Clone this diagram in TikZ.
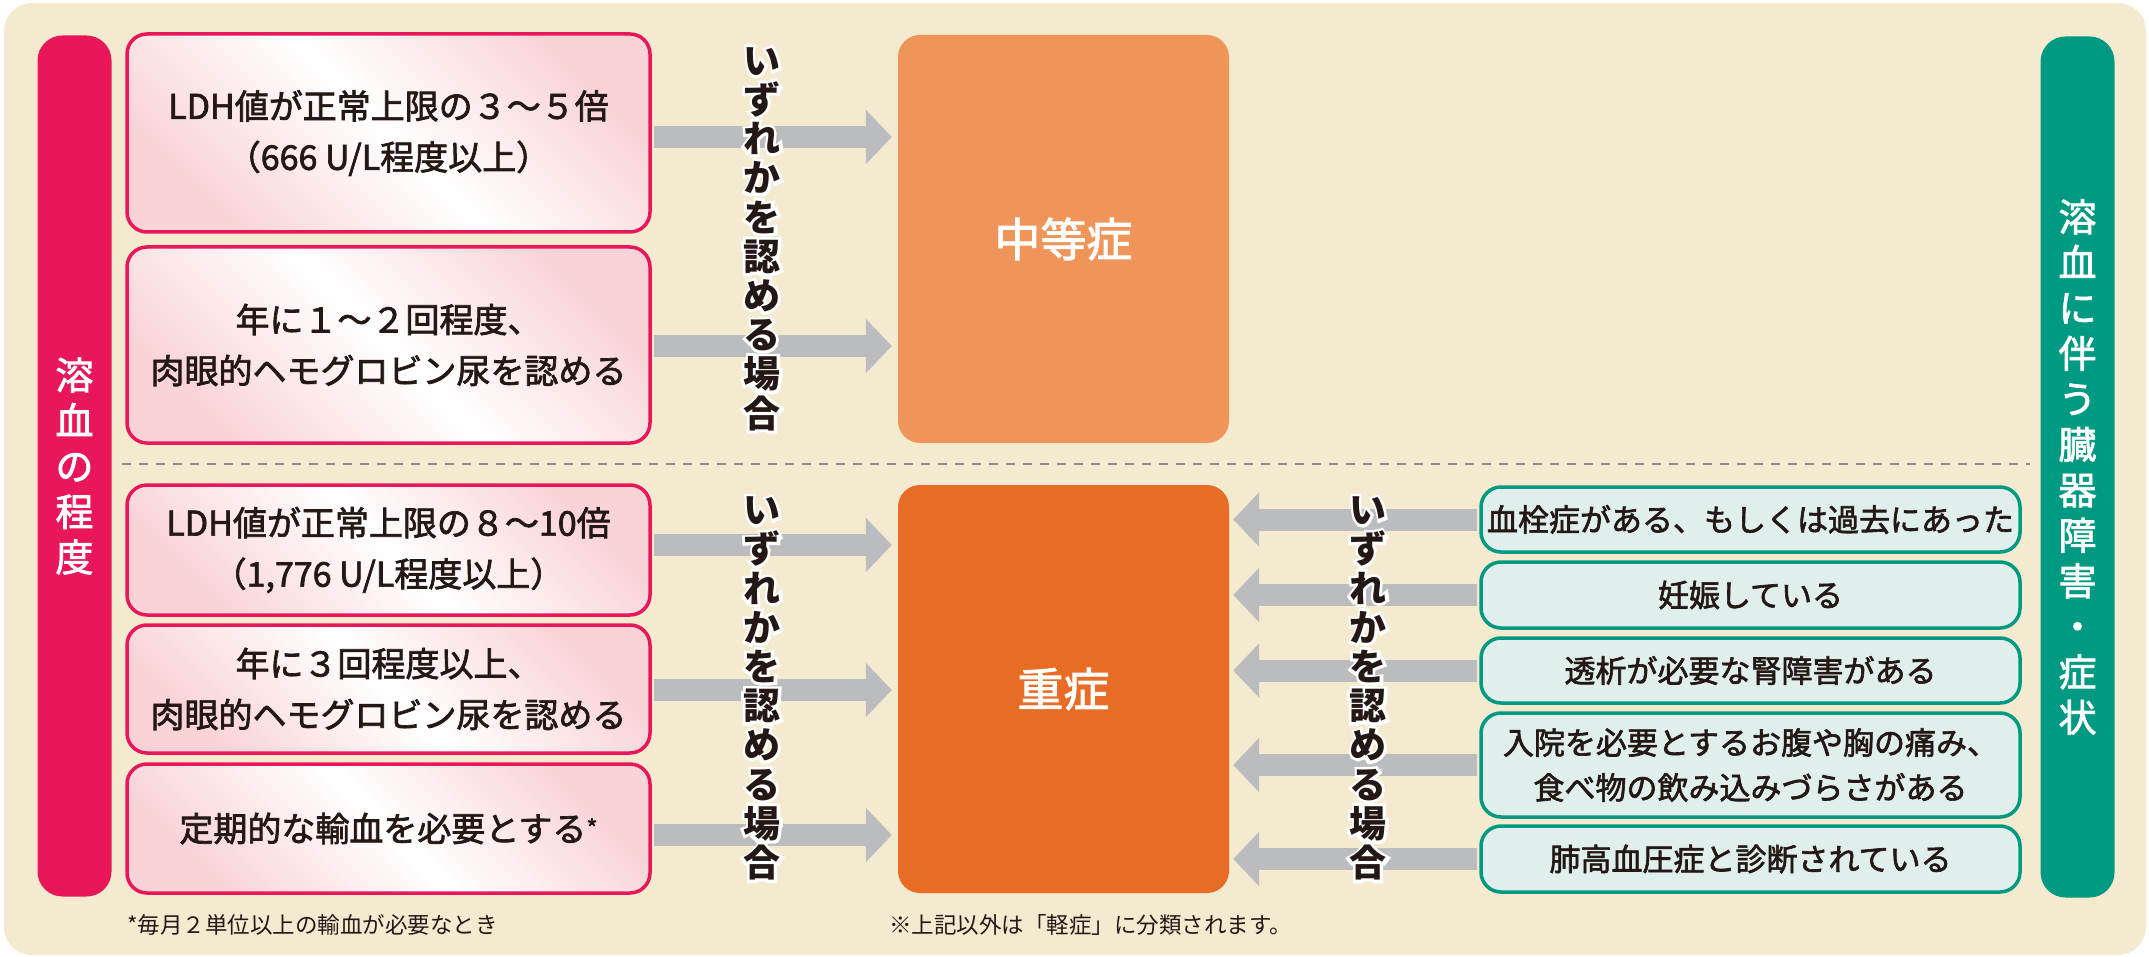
\documentclass[tikz,border=0pt]{standalone}
\usepackage{fontspec}
\setmainfont{Noto Sans CJK JP}
\newfontfamily\medfont{Noto Sans CJK JP}[FakeBold=2]
\newfontfamily\halofont{Noto Sans CJK JP}[FakeBold=20]
\usetikzlibrary{arrows.meta,calc}
\definecolor{bgc}{HTML}{F4EACF}
\definecolor{redc}{HTML}{E8175A}
\definecolor{pinkc}{HTML}{F9D3D6}
\definecolor{orA}{HTML}{EF955A}
\definecolor{orB}{HTML}{E86C24}
\definecolor{grayc}{HTML}{BBBCC0}
\definecolor{tealc}{HTML}{009982}
\definecolor{mintc}{HTML}{E0EFEB}
\definecolor{txtc}{HTML}{231815}
\definecolor{dashc}{HTML}{8C8C8C}
\newcommand\vtext{い\\ず\\れ\\か\\を\\認\\め\\る\\場\\合}
\begin{document}
\begin{tikzpicture}[x=1pt,y=-1pt,
  sidebar/.style={rounded corners=25pt, minimum width=74pt, minimum height=861pt, inner sep=0pt,
    text=white, align=center, font=\medfont\fontsize{38}{45.5}\selectfont},
  pinkbox/.style={draw=redc, line width=3.5pt, rounded corners=20pt, minimum width=523pt, inner sep=0pt,
    left color=pinkc, right color=pinkc, middle color=white, shading angle=135,
    text=txtc, align=center, font=\medfont\fontsize{34}{51}\selectfont},
  sevbox/.style={rounded corners=22pt, minimum width=331pt, minimum height=408pt, inner sep=0pt,
    text=white, font=\medfont\fontsize{46}{46}\selectfont},
  greenbox/.style={draw=tealc, line width=3.5pt, rounded corners=20pt, fill=mintc, minimum width=539pt,
    inner sep=0pt, text=txtc, align=center, font=\medfont\fontsize{31}{45}\selectfont},
  vlabel/.style={text=txtc, align=center, inner sep=0pt, font=\bfseries\fontsize{37}{39.2}\selectfont},
  vhalo/.style={text=white, align=center, inner sep=0pt, font=\halofont\fontsize{37}{39.2}\selectfont},
  garrow/.style={draw=grayc, line width=22pt, -{Triangle[length=26pt,width=53pt]}, shorten <=2pt},
  note/.style={anchor=west, text=txtc, inner sep=0pt, font=\fontsize{22.5}{22.5}\selectfont}]
\useasboundingbox (0,0) rectangle (2149,957);
\fill[bgc, rounded corners=28pt] (4,3) rectangle (2146,955);

% side bars
\node[sidebar, fill=redc] (rb) at (74.5,466) {溶\\血\\の\\程\\度};
\node[sidebar, fill=tealc] (tb) at (2077.5,467) {溶\\血\\に\\伴\\う\\臓\\器\\障\\害\\・\\症\\状};

% severity boxes
\node[sevbox, fill=orA] (mid) at (1063.5,239) {中等症};
\node[sevbox, fill=orB] (sev) at (1063.5,689) {重症};

% pink boxes
\node[pinkbox, minimum height=198pt] (p1) at (388.5,133) {LDH値が正常上限の３〜５倍\\（666 U/L程度以上）};
\node[pinkbox, minimum height=196pt] (p2) at (388.5,345) {年に１〜２回程度、\\肉眼的ヘモグロビン尿を認める};
\node[pinkbox, minimum height=130pt] (p3) at (388.5,550) {LDH値が正常上限の８〜10倍\\（1,776 U/L程度以上）};
\node[pinkbox, minimum height=128pt] (p4) at (388.5,689) {年に３回程度以上、\\肉眼的ヘモグロビン尿を認める};
\node[pinkbox, minimum height=129pt] (p5) at (388.5,828.5) {定期的な輸血を必要とする{\fontsize{24}{24}\selectfont\raisebox{4pt}{*}}};

% green boxes
\node[greenbox, minimum height=65pt] (g1) at (1750.5,519.5) {血栓症がある、もしくは過去にあった};
\node[greenbox, minimum height=66pt] (g2) at (1750.5,595) {妊娠している};
\node[greenbox, minimum height=65pt] (g3) at (1750.5,670.5) {透析が必要な腎障害がある};
\node[greenbox, minimum height=104pt] (g4) at (1750.5,765) {入院を必要とするお腹や胸の痛み、\\食べ物の飲み込みづらさがある};
\node[greenbox, minimum height=66pt] (g5) at (1750.5,859) {肺高血圧症と診断されている};

% arrows
\draw[garrow, shorten >=6pt] ([yshift=-4pt]p1.east) -- ([yshift=-4pt]p1.east -| mid.west);
\draw[garrow, shorten >=6pt] ([yshift=-1pt]p2.east) -- ([yshift=-1pt]p2.east -| mid.west);
\draw[garrow, shorten >=6pt] ([yshift=5pt]p3.east) -- ([yshift=5pt]p3.east -| sev.west);
\draw[garrow, shorten >=6pt] ([yshift=-1pt]p4.east) -- ([yshift=-1pt]p4.east -| sev.west);
\draw[garrow, shorten >=6pt] ([yshift=-6.5pt]p5.east) -- ([yshift=-6.5pt]p5.east -| sev.west);
\draw[garrow, shorten >=4pt] (g1.west) -- (g1.west -| sev.east);
\draw[garrow, shorten >=4pt] (g2.west) -- (g2.west -| sev.east);
\draw[garrow, shorten >=4pt] (g3.west) -- (g3.west -| sev.east);
\draw[garrow, shorten >=4pt] (g4.west) -- (g4.west -| sev.east);
\draw[garrow, shorten >=4pt] (g5.west) -- (g5.west -| sev.east);

% vertical labels (white halo underneath, text on top)
\node[vhalo] (h1) at (762,239) {\vtext};
\node[vhalo] (h2) at (762,688.5) {\vtext};
\node[vhalo] (h3) at (1368,688.5) {\vtext};
\node[vlabel] (v1) at (762,239) {\vtext};
\node[vlabel] (v2) at (762,688.5) {\vtext};
\node[vlabel] (v3) at (1368,688.5) {\vtext};

% separator
\draw[dashc, line width=2pt, dash pattern=on 9pt off 8pt] (122,464) -- (2030,464);

% notes
\node[note] (n1) at (127,925) {*毎月２単位以上の輸血が必要なとき};
\node[note] (n2) at (889,925) {※上記以外は「軽症」に分類されます。};
\end{tikzpicture}
\end{document}
